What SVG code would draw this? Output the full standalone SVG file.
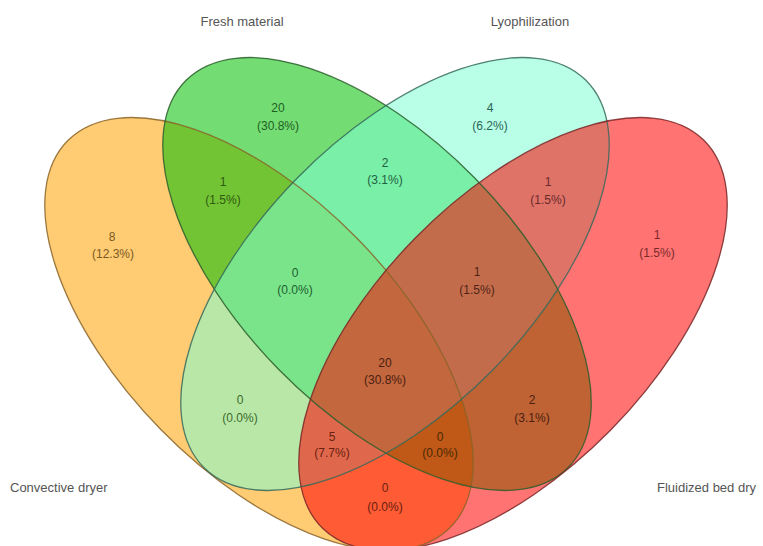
<svg xmlns="http://www.w3.org/2000/svg" xmlns:xlink="http://www.w3.org/1999/xlink" width="763" height="546" viewBox="0 0 763 546">
<defs>
<ellipse id="shape" cx="0" cy="0" rx="272" ry="137"/>
<style>
.fill{fill-opacity:0.55;stroke:none}
.line{fill:none;stroke-width:1.3;stroke-opacity:0.85}
.cat{font-family:"Liberation Sans",Arial,sans-serif;font-size:13px;fill:#555;}
.num{font-family:"Liberation Sans",Arial,sans-serif;font-size:12px;text-anchor:middle;}
</style>
</defs>
<rect width="763" height="546" fill="#ffffff"/>
<g id="fills">
<use xlink:href="#shape" class="fill" fill="#FFA000" transform="translate(259,334) rotate(45.5)"/>
<use xlink:href="#shape" class="fill" fill="#00C000" transform="translate(377,274) rotate(45.5)"/>
<use xlink:href="#shape" class="fill" fill="#7FFFD4" transform="translate(395,274) rotate(-45.5)"/>
<use xlink:href="#shape" class="fill" fill="#FF0000" transform="translate(513,334) rotate(-45.5)"/>
</g>
<g id="outlines">
<g id="set-convective"><use xlink:href="#shape" class="line" stroke="#8A6428" transform="translate(259,334) rotate(45.5)"/></g>
<g id="set-fresh"><use xlink:href="#shape" class="line" stroke="#2A5E2A" transform="translate(377,274) rotate(45.5)"/></g>
<g id="set-lyo"><use xlink:href="#shape" class="line" stroke="#356A5C" transform="translate(395,274) rotate(-45.5)"/></g>
<g id="set-fluid"><use xlink:href="#shape" class="line" stroke="#7A2626" transform="translate(513,334) rotate(-45.5)"/></g>
</g>
<g id="categories">
<text class="cat" x="242" y="26" text-anchor="middle">Fresh material</text>
<text class="cat" x="530" y="26" text-anchor="middle">Lyophilization</text>
<text class="cat" x="10" y="492">Convective dryer</text>
<text class="cat" x="657" y="492">Fluidized bed dry</text>
</g>
<g id="counts">
<g fill="#7A5A22"><text class="num" x="112" y="241">8</text><text class="num" x="113" y="258">(12.3%)</text></g>
<g fill="#2F5A12"><text class="num" x="223" y="186">1</text><text class="num" x="223" y="204">(1.5%)</text></g>
<g fill="#1E601E"><text class="num" x="278" y="112">20</text><text class="num" x="278" y="130">(30.8%)</text></g>
<g fill="#1E6040"><text class="num" x="385" y="167">2</text><text class="num" x="385" y="184">(3.1%)</text></g>
<g fill="#2A6454"><text class="num" x="490" y="112">4</text><text class="num" x="490" y="130">(6.2%)</text></g>
<g fill="#6A2A2A"><text class="num" x="548" y="186">1</text><text class="num" x="548" y="204">(1.5%)</text></g>
<g fill="#7A2A2A"><text class="num" x="657" y="239">1</text><text class="num" x="657" y="257">(1.5%)</text></g>
<g fill="#1E6030"><text class="num" x="295" y="277">0</text><text class="num" x="295" y="294">(0.0%)</text></g>
<g fill="#502414"><text class="num" x="477" y="276">1</text><text class="num" x="477" y="294">(1.5%)</text></g>
<g fill="#4A2010"><text class="num" x="385" y="367">20</text><text class="num" x="385" y="384">(30.8%)</text></g>
<g fill="#3A6A2A"><text class="num" x="240" y="404">0</text><text class="num" x="240" y="422">(0.0%)</text></g>
<g fill="#4A2010"><text class="num" x="532" y="404">2</text><text class="num" x="532" y="422">(3.1%)</text></g>
<g fill="#6A2010"><text class="num" x="332" y="441">5</text><text class="num" x="332" y="457">(7.7%)</text></g>
<g fill="#4A2A00"><text class="num" x="440" y="441">0</text><text class="num" x="440" y="457">(0.0%)</text></g>
<g fill="#6A2010"><text class="num" x="385" y="492">0</text><text class="num" x="385" y="511">(0.0%)</text></g>
</g>
</svg>
